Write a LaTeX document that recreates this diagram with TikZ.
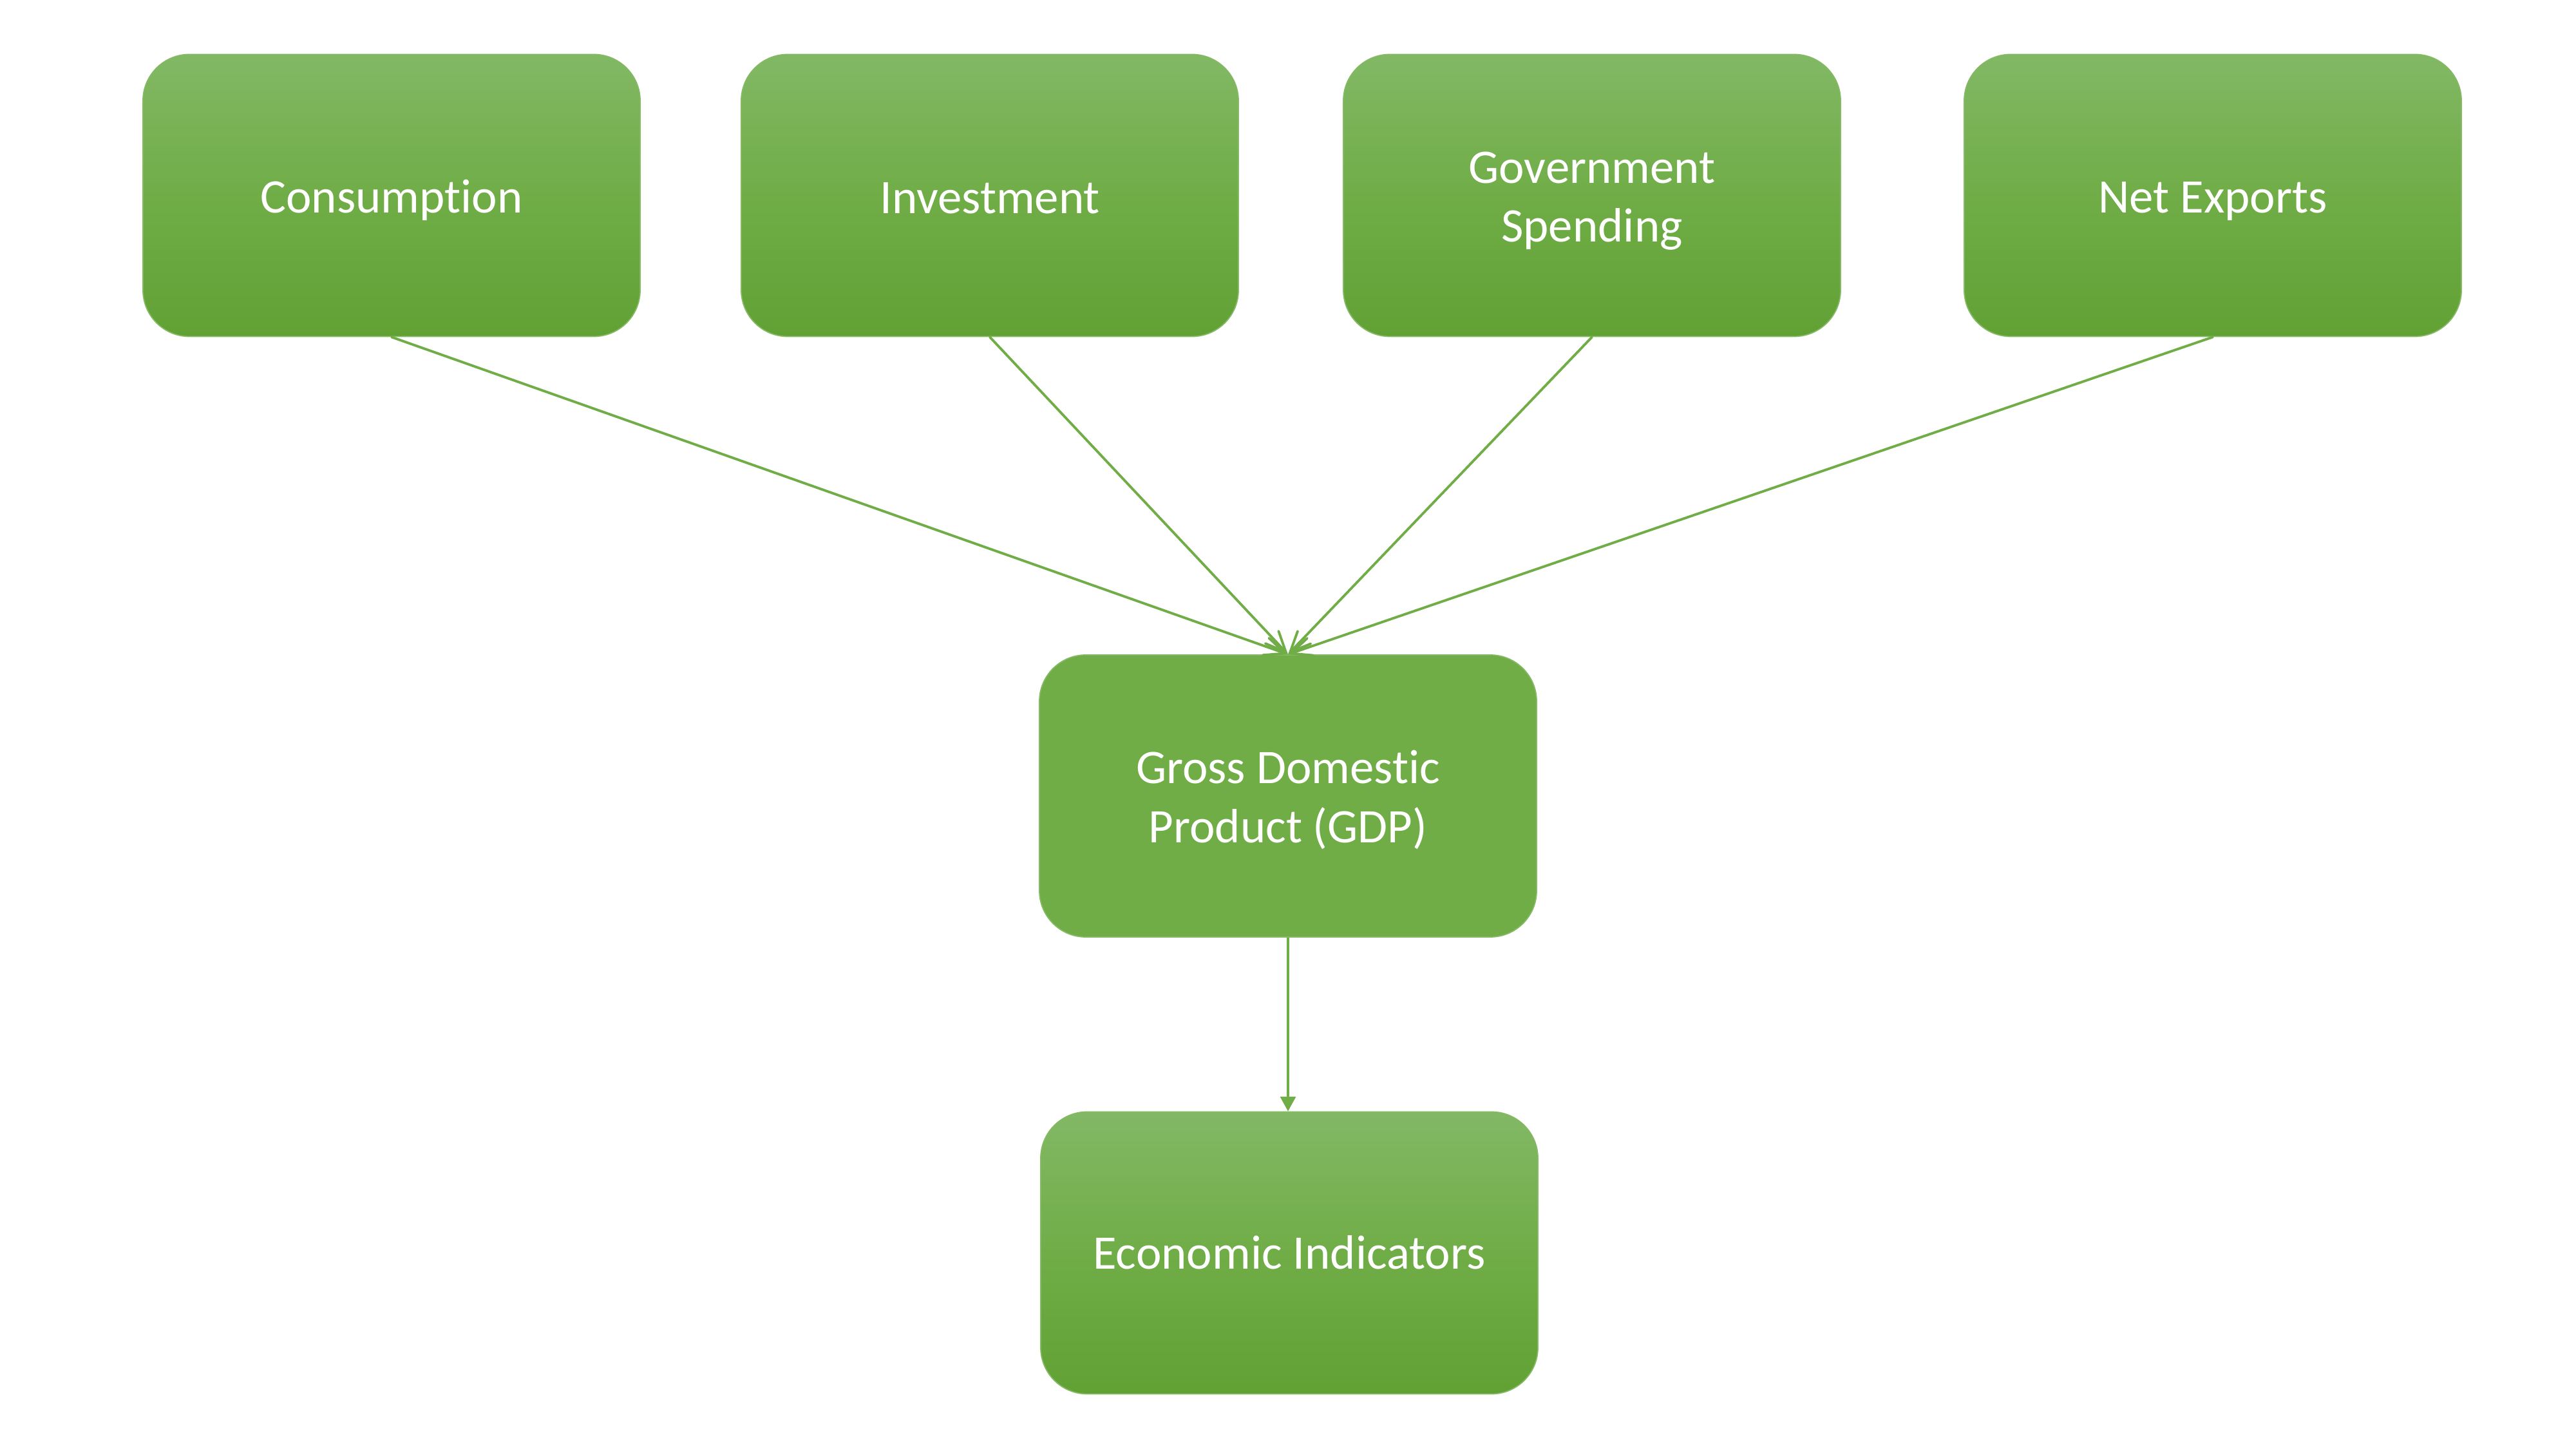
\documentclass[tikz,border=0pt]{standalone}
\usepackage{fontspec}
\setmainfont{Carlito}[Ligatures={NoCommon}]
\usetikzlibrary{arrows.meta}
\definecolor{gtop}{HTML}{82B865}
\definecolor{gmid}{HTML}{70AD47}
\definecolor{gbot}{HTML}{61A134}
\definecolor{gline}{HTML}{70AD47}
\newcommand\lowtxt[2]{\raisebox{-#1}[\height][\depth]{\begin{tabular}{@{}c@{}}#2\end{tabular}}}
\tikzset{
  boxbase/.style={rectangle, rounded corners=0.72cm, minimum width=7.72cm, minimum height=4.38cm,
    align=center, text=white, font=\fontsize{21.3}{26}\selectfont, draw=gline!85!white, line width=0.5pt},
  gradbox/.style={boxbase, top color=gtop, bottom color=gbot, middle color=gmid},
  flatbox/.style={boxbase, fill=gmid},
  conn/.style={draw=gline, line width=1.1pt, line cap=round, -{Straight Barb[length=9pt,width=8pt,line cap=round]}},
  connv/.style={draw=gline, line width=1.1pt, -{Triangle[length=6.5pt,width=6.8pt]}}
}
\begin{document}
\begin{tikzpicture}
\useasboundingbox (0,0) rectangle (40,-22.5);
\fill[white] (0,0) rectangle (40,-22.5);
\node[gradbox] (cons) at (6.08,-3.035) {\lowtxt{2.4pt}{Consumption}};
\node[gradbox] (inv) at (15.37,-3.035) {\lowtxt{2.8pt}{Investment}};
\node[gradbox] (gov) at (24.72,-3.035) {\lowtxt{2.4pt}{Government\\Spending}};
\node[gradbox] (nx) at (34.36,-3.035) {\lowtxt{2.4pt}{Net Exports}};
\node[flatbox] (gdp) at (20.00,-12.36) {\lowtxt{2.3pt}{Gross Domestic\\Product (GDP)}};
\node[gradbox] (ei) at (20.02,-19.455) {\lowtxt{2.0pt}{Economic Indicators}};
\draw[conn] (cons.south) -- (gdp.north);
\draw[conn] (inv.south) -- (gdp.north);
\draw[conn] (gov.south) -- (gdp.north);
\draw[conn] (nx.south) -- (gdp.north);
\draw[connv] (gdp.south) -- (gdp.south |- ei.north);
\end{tikzpicture}
\end{document}
